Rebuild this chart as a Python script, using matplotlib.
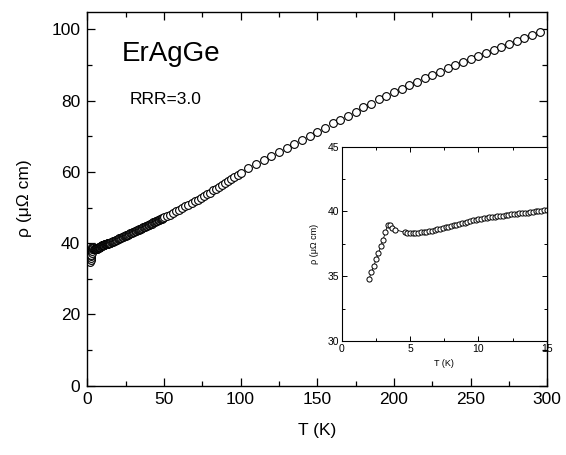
import matplotlib
matplotlib.use("Agg")
import matplotlib.pyplot as plt

plt.rcParams['font.family'] = ['Liberation Sans', 'DejaVu Sans']

# Low-temperature sweep (K) and resistivity (uOhm cm)
T_low = [2.00, 2.17, 2.35, 2.52, 2.69, 2.86, 3.03, 3.19, 3.36, 3.53, 3.71, 3.90,
         4.6, 4.8, 5.0, 5.2, 5.4, 5.6, 5.8, 6.0, 6.2, 6.4, 6.6, 6.8,
         7.0, 7.2, 7.4, 7.6, 7.8, 8.0, 8.2, 8.4, 8.6, 8.8, 9.0, 9.2,
         9.4, 9.6, 9.8, 10.0, 10.2, 10.4, 10.6, 10.8, 11.0, 11.2, 11.4, 11.6,
         11.8, 12.0, 12.2, 12.4, 12.6, 12.8, 13.0, 13.2, 13.4, 13.6, 13.8, 14.0,
         14.2, 14.4, 14.6, 14.8, 15.0]
rho_low = [34.80, 35.30, 35.80, 36.30, 36.80, 37.30, 37.80, 38.40, 38.92, 38.93, 38.76, 38.60,
           38.39, 38.36, 38.33, 38.32, 38.33, 38.35, 38.38, 38.42, 38.45, 38.48, 38.52, 38.56,
           38.62, 38.67, 38.72, 38.77, 38.82, 38.87, 38.92, 38.98, 39.03, 39.08, 39.14, 39.19,
           39.25, 39.31, 39.37, 39.42, 39.45, 39.48, 39.52, 39.55, 39.58, 39.60, 39.63, 39.66,
           39.68, 39.71, 39.74, 39.77, 39.79, 39.82, 39.86, 39.88, 39.90, 39.92, 39.94, 39.97,
           40.00, 40.03, 40.06, 40.09, 40.11]

# 15.5-49.5 K, 0.5 K steps
T_mid = [15.5, 16.0, 16.5, 17.0, 17.5, 18.0, 18.5, 19.0, 19.5, 20.0, 20.5, 21.0,
         21.5, 22.0, 22.5, 23.0, 23.5, 24.0, 24.5, 25.0, 25.5, 26.0, 26.5, 27.0,
         27.5, 28.0, 28.5, 29.0, 29.5, 30.0, 30.5, 31.0, 31.5, 32.0, 32.5, 33.0,
         33.5, 34.0, 34.5, 35.0, 35.5, 36.0, 36.5, 37.0, 37.5, 38.0, 38.5, 39.0,
         39.5, 40.0, 40.5, 41.0, 41.5, 42.0, 42.5, 43.0, 43.5, 44.0, 44.5, 45.0,
         45.5, 46.0, 46.5, 47.0, 47.5, 48.0, 48.5, 49.0, 49.5]
rho_mid = [40.2, 40.3, 40.4, 40.5, 40.6, 40.7, 40.8, 40.9, 41.0, 41.1, 41.2, 41.3,
           41.4, 41.5, 41.6, 41.7, 41.8, 41.9, 42.0, 42.1, 42.2, 42.3, 42.4, 42.5,
           42.6, 42.7, 42.8, 42.9, 43.0, 43.1, 43.2, 43.3, 43.4, 43.5, 43.6, 43.7,
           43.8, 43.9, 44.0, 44.1, 44.2, 44.3, 44.4, 44.5, 44.6, 44.7, 44.8, 44.9,
           45.0, 45.1, 45.2, 45.3, 45.4, 45.5, 45.65, 45.8, 45.9, 46.0, 46.1, 46.2,
           46.3, 46.4, 46.5, 46.6, 46.7, 46.8, 46.9, 47.0, 47.1]

# 50-98 K, 2 K steps
T_warm = [50, 52, 54, 56, 58, 60, 62, 64, 66, 68, 70, 72, 74, 76, 78, 80,
          82, 84, 86, 88, 90, 92, 94, 96, 98]
rho_warm = [47.2, 47.6, 48.0, 48.4, 48.9, 49.3, 49.8, 50.3, 50.8, 51.2, 51.7, 52.2,
            52.7, 53.2, 53.7, 54.2, 54.8, 55.3, 55.8, 56.3, 56.9, 57.4, 57.9, 58.5, 59.0]

# 100-295 K, 5 K steps
T_high = [100, 105, 110, 115, 120, 125, 130, 135, 140, 145, 150, 155, 160, 165,
          170, 175, 180, 185, 190, 195, 200, 205, 210, 215, 220, 225, 230, 235,
          240, 245, 250, 255, 260, 265, 270, 275, 280, 285, 290, 295]
rho_high = [59.8, 61.0, 62.1, 63.3, 64.4, 65.6, 66.7, 67.9, 69.0, 70.1, 71.3, 72.4,
            73.6, 74.7, 75.8, 76.9, 78.1, 79.2, 80.4, 81.4, 82.4, 83.4, 84.4, 85.3,
            86.3, 87.2, 88.2, 89.1, 90.0, 90.8, 91.7, 92.5, 93.4, 94.2, 95.1, 95.9,
            96.8, 97.6, 98.4, 99.3]

T_all = T_low + T_mid + T_warm + T_high
rho_all = rho_low + rho_mid + rho_warm + rho_high

fig = plt.figure(figsize=(5.66, 4.55), dpi=100)

# ---- main panel ----
ax = fig.add_axes([0.1542, 0.1527, 0.8127, 0.8216])
ax.plot(T_all, rho_all, linestyle='none', marker='o', markersize=5.6,
        markerfacecolor='white', markeredgecolor='black', markeredgewidth=0.8)
ax.set_xlim(0, 300)
ax.set_ylim(0, 105)
ax.set_xticks([0, 50, 100, 150, 200, 250, 300])
ax.set_xticks([25, 75, 125, 175, 225, 275], minor=True)
ax.set_yticks([0, 20, 40, 60, 80, 100])
ax.set_yticks([10, 30, 50, 70, 90], minor=True)
ax.tick_params(which='both', direction='in', top=True, right=True,
               labelsize=12.5, width=0.9, pad=5)
ax.tick_params(which='major', length=5.5)
ax.tick_params(which='minor', length=3.5)
for s in ax.spines.values():
    s.set_linewidth(1.0)
ax.set_xlabel('T (K)', fontsize=12.5, labelpad=11)
ax.set_ylabel('ρ (μΩ cm)', fontsize=12.5, labelpad=14)

ax.text(0.076, 0.868, 'ErAgGe', transform=ax.transAxes, fontsize=20)
ax.text(0.093, 0.753, 'RRR=3.0', transform=ax.transAxes, fontsize=12.5)

# ---- inset: low-temperature detail ----
ins = fig.add_axes([0.6037, 0.2505, 0.3622, 0.4271])
ins.plot(T_low, rho_low, color='black', linewidth=0.6, marker='o', markersize=3.7,
         markerfacecolor='white', markeredgecolor='black', markeredgewidth=0.7)
ins.set_xlim(0, 15)
ins.set_ylim(30, 45)
ins.set_xticks([0, 5, 10, 15])
ins.set_xticks([2.5, 7.5, 12.5], minor=True)
ins.set_yticks([30, 35, 40, 45])
ins.set_yticks([32.5, 37.5, 42.5], minor=True)
ins.tick_params(which='both', direction='in', top=True, right=True,
                labelsize=7.5, width=0.7, pad=2)
ins.tick_params(which='major', length=3.5)
ins.tick_params(which='minor', length=2.2)
for s in ins.spines.values():
    s.set_linewidth(0.8)
ins.set_xlabel('T (K)', fontsize=6.5, labelpad=4)
ins.set_ylabel('ρ (μΩ cm)', fontsize=6.5, labelpad=6)

fig.savefig('out.png', dpi=100)
